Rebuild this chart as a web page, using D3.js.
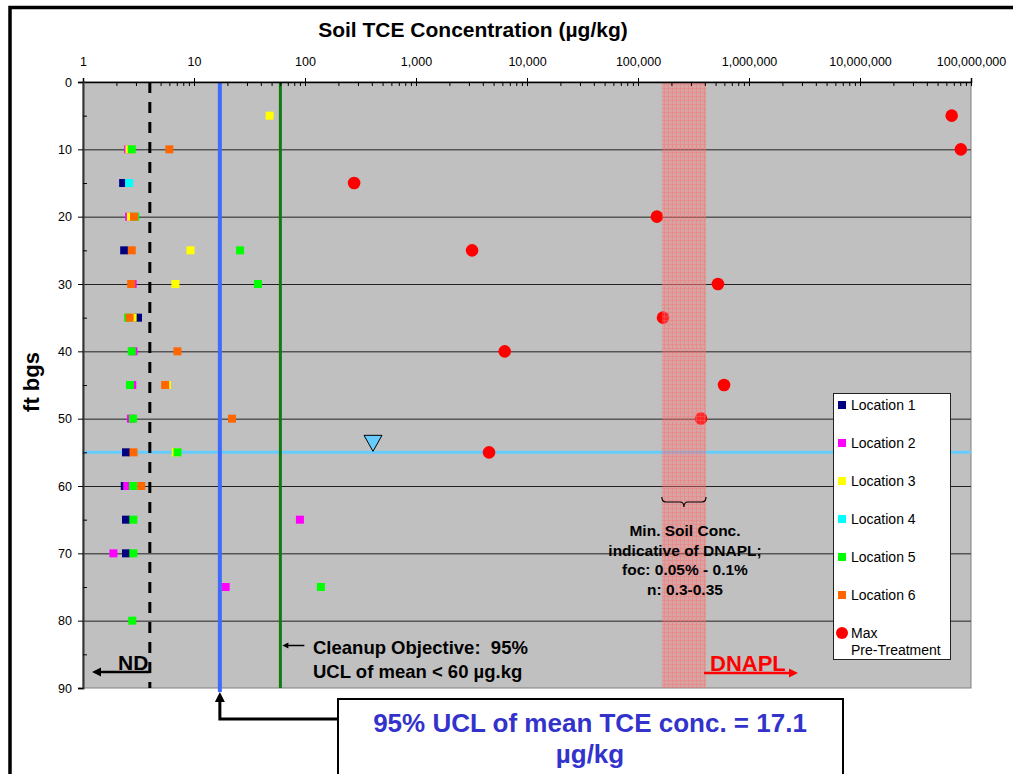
<!DOCTYPE html>
<html>
<head>
<meta charset="utf-8">
<script src="https://cdn.jsdelivr.net/npm/d3@7"></script>
<style>
  body { margin: 0; background: #fff; }
  text { font-family: Arial, "Liberation Sans", sans-serif; }
</style>
</head>
<body>
<svg class="chart"></svg>
<script>
// depth (ft bgs), TCE (ug/kg)
var loc1 = [[15, 2.3], [25, 2.35], [35, 3.13], [55, 2.44], [60, 2.38], [65, 2.44], [70, 2.44]];
var loc2 = [[10, 2.55], [20, 2.6], [30, 2.8], [40, 2.85], [45, 2.78], [50, 2.7], [60, 2.5], [65, 90], [70, 1.88], [75, 19.3]];
var loc3 = [[5, 48], [10, 2.62], [20, 2.7], [25, 9.3], [30, 6.8], [35, 2.8], [45, 5.7], [55, 6.85]];
var loc4 = [[15, 2.6]];
var loc5 = [[10, 2.75], [20, 2.95], [25, 26], [30, 37.7], [35, 2.55], [40, 2.75], [45, 2.65], [50, 2.82], [55, 7.1], [60, 2.82], [65, 2.84], [70, 2.84], [75, 139], [80, 2.78]];
var loc6 = [[10, 6.0], [20, 2.88], [25, 2.75], [30, 2.72], [35, 2.63], [40, 7.1], [45, 5.5], [50, 22], [55, 2.85], [60, 3.35]];
var maxPre = [[5, 6.7e7], [10, 8.1e7], [15, 277], [20, 148000], [25, 3200], [30, 525000], [35, 168000], [40, 6300], [45, 596000], [50, 370000], [55, 4550]];

var seriesNames = ['Location 1', 'Location 2', 'Location 3', 'Location 4', 'Location 5', 'Location 6'];
var seriesColors = ['#000080', '#ff00ff', '#ffff00', '#00ffff', '#00ff00', '#ff6600'];
var xTicks = [1, 10, 100, 1000, 10000, 100000, 1000000, 10000000, 100000000];
var yTicks = [0, 10, 20, 30, 40, 50, 60, 70, 80, 90];

var ndLimit = 4;
var ucl95 = 17.1;
var cleanupObjective = 60;
var dnaplRange = [164000, 410000];
var waterTable = 55;

var W = 1013, H = 774;
var svg = d3.select('.chart').attr('width', W).attr('height', H);

var x = d3.scaleLog().domain([1, 1e8]).range([83, 971]);
var y = d3.scaleLinear().domain([0, 90]).range([82, 688]);

// pattern for the DNAPL band
var defs = svg.append('defs');
var pat = defs.append('pattern').attr('id', 'grid').attr('width', 4).attr('height', 4)
  .attr('patternUnits', 'userSpaceOnUse');
pat.append('rect').attr('width', 4).attr('height', 4).attr('fill', 'rgba(255,110,110,0.36)');
pat.append('path').attr('d', 'M0,0.5H4M0.5,0V4').attr('stroke', 'rgba(255,110,110,0.5)').attr('stroke-width', 0.7);

// outer frame
svg.append('path').attr('d', 'M10,' + H + 'V7.5H' + W)
  .attr('fill', 'none').attr('stroke', '#000').attr('stroke-width', 3.5);

// plot background
svg.append('rect')
  .attr('x', x.range()[0]).attr('y', y.range()[0])
  .attr('width', x.range()[1] - x.range()[0]).attr('height', y.range()[1] - y.range()[0])
  .attr('fill', '#c0c0c0').attr('stroke', '#808080');

// horizontal grid
svg.append('g').selectAll('line').data(yTicks.slice(1, -1)).enter().append('line')
  .attr('x1', x.range()[0]).attr('x2', x.range()[1])
  .attr('y1', function(d) { return y(d) + 0.5; }).attr('y2', function(d) { return y(d) + 0.5; })
  .attr('stroke', '#222').attr('stroke-width', 1);

// water table
svg.append('line')
  .attr('x1', x(1) + 2).attr('x2', x.range()[1])
  .attr('y1', y(waterTable)).attr('y2', y(waterTable))
  .attr('stroke', '#66ccff').attr('stroke-width', 3);

// reference lines
svg.append('line').attr('x1', x(ndLimit)).attr('x2', x(ndLimit))
  .attr('y1', y(0)).attr('y2', y(90))
  .attr('stroke', '#000').attr('stroke-width', 3).attr('stroke-dasharray', '11,9');
svg.append('line').attr('x1', x(cleanupObjective)).attr('x2', x(cleanupObjective))
  .attr('y1', y(0)).attr('y2', y(90))
  .attr('stroke', '#0f7a0f').attr('stroke-width', 3);
svg.append('line').attr('x1', x(ucl95)).attr('x2', x(ucl95))
  .attr('y1', y(0)).attr('y2', y(90) + 4)
  .attr('stroke', '#3d6bff').attr('stroke-width', 4);

// location points
[loc1, loc2, loc3, loc4, loc5, loc6].forEach(function(s, i) {
  svg.append('g').selectAll('rect').data(s).enter().append('rect')
    .attr('x', function(d) { return x(d[1]) - 4; })
    .attr('y', function(d) { return y(d[0]) - 4; })
    .attr('width', 8).attr('height', 8)
    .attr('fill', seriesColors[i]);
});

svg.append('g').selectAll('circle').data(maxPre).enter().append('circle')
  .attr('cx', function(d) { return x(d[1]); })
  .attr('cy', function(d) { return y(d[0]); })
  .attr('r', 6.3)
  .attr('fill', '#ff0000');

// DNAPL band (drawn over the points, it is translucent)
svg.append('rect')
  .attr('x', x(dnaplRange[0])).attr('y', y(0))
  .attr('width', x(dnaplRange[1]) - x(dnaplRange[0])).attr('height', y(90) - y(0))
  .attr('fill', 'url(#grid)');

// water table symbol
var tx = 373, ty = y(waterTable);
svg.append('path')
  .attr('d', 'M' + (tx - 9) + ',' + (ty - 17) + 'H' + (tx + 9) + 'L' + tx + ',' + (ty - 1) + 'Z')
  .attr('fill', '#66ccff').attr('stroke', '#000').attr('stroke-width', 1);

// axes
var topAxis = svg.append('g').attr('transform', 'translate(0,' + y(0) + ')')
  .call(d3.axisTop(x).tickValues(xTicks).tickFormat(d3.format(',')).tickSize(4).tickPadding(12));
var minor = [];
for (var e = 0; e < 8; e++) {
  for (var m = 2; m <= 9; m++) minor.push(m * Math.pow(10, e));
}
svg.append('g').attr('transform', 'translate(0,' + y(0) + ')')
  .call(d3.axisBottom(x).tickValues(minor.concat(xTicks)).tickFormat('').tickSize(4))
  .select('.domain').remove();
topAxis.select('.domain').attr('stroke-width', 1.5);
topAxis.selectAll('text').attr('font-size', '12.5px').attr('fill', '#000')
  .attr('font-family', 'Arial, "Liberation Sans", sans-serif');

var leftAxis = svg.append('g').attr('transform', 'translate(' + x(1) + ',0)')
  .call(d3.axisLeft(y).tickValues(yTicks).tickSize(5).tickPadding(6));
svg.append('g').attr('transform', 'translate(' + x(1) + ',0)')
  .call(d3.axisRight(y).tickValues([5, 15, 25, 35, 45, 55, 65, 75, 85]).tickFormat('').tickSize(4))
  .select('.domain').remove();
leftAxis.select('.domain').attr('stroke', '#333').attr('stroke-width', 2);
leftAxis.selectAll('text').attr('font-size', '12.5px').attr('fill', '#000')
  .attr('font-family', 'Arial, "Liberation Sans", sans-serif');

// titles
svg.append('text').attr('x', 473).attr('y', 37)
  .attr('text-anchor', 'middle').attr('font-size', '21px').attr('font-weight', 'bold')
  .text('Soil TCE Concentration (\u00b5g/kg)');
svg.append('text').attr('transform', 'translate(39,382) rotate(-90)')
  .attr('text-anchor', 'middle').attr('font-size', '22px').attr('font-weight', 'bold')
  .text('ft bgs');

// brace + DNAPL note
var bx0 = x(dnaplRange[0]), bx1 = x(dnaplRange[1]), bxm = (bx0 + bx1) / 2;
svg.append('path')
  .attr('d', 'M' + bx0 + ',497Q' + bx0 + ',502 ' + (bx0 + 4) + ',502H' + (bxm - 4) +
    'Q' + bxm + ',502 ' + bxm + ',507Q' + bxm + ',502 ' + (bxm + 4) + ',502H' + (bx1 - 4) +
    'Q' + bx1 + ',502 ' + bx1 + ',497')
  .attr('fill', 'none').attr('stroke', '#000').attr('stroke-width', 1.2);
var note = ['Min. Soil Conc.', 'indicative of DNAPL;', 'foc: 0.05% - 0.1%', 'n: 0.3-0.35'];
svg.append('g').selectAll('text').data(note).enter().append('text')
  .attr('x', 685).attr('y', function(d, i) { return 536 + i * 19.5; })
  .attr('text-anchor', 'middle').attr('font-size', '15.5px').attr('font-weight', 'bold')
  .text(function(d) { return d; });

// ND arrow
var ay = 672;
svg.append('line').attr('x1', x(ndLimit)).attr('x2', 98).attr('y1', ay).attr('y2', ay)
  .attr('stroke', '#000').attr('stroke-width', 2.5);
svg.append('path').attr('d', 'M92,' + ay + 'L101,' + (ay - 4.5) + 'L101,' + (ay + 4.5) + 'Z').attr('fill', '#000');
svg.append('text').attr('x', 118).attr('y', 670).attr('font-size', '21px').attr('font-weight', 'bold').text('ND');

// DNAPL arrow
svg.append('line').attr('x1', bx1 - 2).attr('x2', 790).attr('y1', 673).attr('y2', 673)
  .attr('stroke', '#ff0000').attr('stroke-width', 2.5);
svg.append('path').attr('d', 'M798,673L789,668.5L789,677.5Z').attr('fill', '#ff0000');
svg.append('text').attr('x', 710).attr('y', 671).attr('font-size', '22px').attr('font-weight', 'bold')
  .attr('fill', '#ff0000').text('DNAPL');

// cleanup objective note
var cx = x(cleanupObjective);
svg.append('line').attr('x1', cx + 24).attr('x2', cx + 5).attr('y1', 645.5).attr('y2', 645.5)
  .attr('stroke', '#000').attr('stroke-width', 1.5);
svg.append('path').attr('d', 'M' + (cx + 2) + ',645.5L' + (cx + 8) + ',642.5L' + (cx + 8) + ',648.5Z').attr('fill', '#000');
svg.append('text').attr('x', 313).attr('y', 654).attr('font-size', '18.5px').attr('font-weight', 'bold')
  .text('Cleanup Objective:\u00a0\u00a095%');
svg.append('text').attr('x', 313).attr('y', 678).attr('font-size', '18.5px').attr('font-weight', 'bold')
  .text('UCL of mean < 60 \u00b5g.kg');

// legend
var lg = svg.append('g');
lg.append('rect').attr('x', 833.5).attr('y', 393.5).attr('width', 117).attr('height', 266)
  .attr('fill', '#fff').attr('stroke', '#222');
seriesNames.forEach(function(n, i) {
  var ly = 405 + i * 38;
  lg.append('rect').attr('x', 838).attr('y', ly - 4).attr('width', 8).attr('height', 8).attr('fill', seriesColors[i]);
  lg.append('text').attr('x', 851).attr('y', ly + 5).attr('font-size', '14px').text(n);
});
lg.append('circle').attr('cx', 842).attr('cy', 633).attr('r', 6).attr('fill', '#ff0000');
lg.append('text').attr('x', 851).attr('y', 638).attr('font-size', '14px').text('Max');
lg.append('text').attr('x', 851).attr('y', 655).attr('font-size', '14px').text('Pre-Treatment');

// UCL callout
var ux = x(ucl95);
svg.append('path').attr('d', 'M338,719H' + ux + 'V701')
  .attr('fill', 'none').attr('stroke', '#000').attr('stroke-width', 3);
svg.append('path').attr('d', 'M' + ux + ',692L' + (ux - 5) + ',702L' + (ux + 5) + ',702Z').attr('fill', '#000');
svg.append('rect').attr('x', 338).attr('y', 699).attr('width', 505).attr('height', 100)
  .attr('fill', '#fff').attr('stroke', '#000').attr('stroke-width', 2);
svg.append('text').attr('x', 590).attr('y', 731.5).attr('text-anchor', 'middle')
  .attr('font-size', '26px').attr('font-weight', 'bold').attr('fill', '#3333cc')
  .text('95% UCL of mean TCE conc. = 17.1');
svg.append('text').attr('x', 590).attr('y', 763).attr('text-anchor', 'middle')
  .attr('font-size', '26px').attr('font-weight', 'bold').attr('fill', '#3333cc')
  .text('\u00b5g/kg');
</script>
</body>
</html>
